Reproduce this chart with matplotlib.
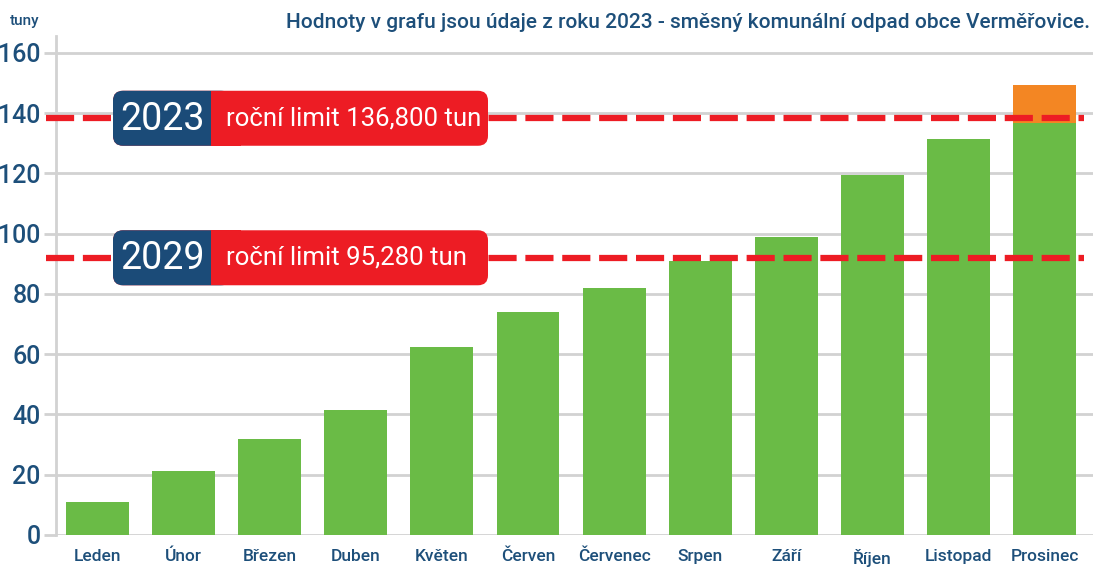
import matplotlib
matplotlib.use("Agg")
import matplotlib.pyplot as plt
from matplotlib.patches import FancyBboxPatch, Rectangle
import numpy as np

# Data (tuny)
months = ["Leden", "Únor", "Březen", "Duben", "Květen", "Červen",
          "Červenec", "Srpen", "Září", "Říjen", "Listopad", "Prosinec"]
values = [11.0, 21.2, 31.9, 41.5, 62.4, 74.0, 82.0, 91.0, 98.9, 119.5, 131.5, 149.4]

limit_years = ["2023", "2029"]
limit_texts = ["roční limit 136,800 tun", "roční limit 95,280 tun"]
limit_values = [136.8, 95.28]
# the dashed lines sit slightly off the stated values in the original
limit_lines = [138.3, 92.0]

GREEN = "#6abb46"
ORANGE = "#f38623"
BLUE = "#1b4b78"
RED = "#ed1c24"
GRID = "#d2d2d2"
TEXT = "#1d4f7a"

plt.rcParams['font.family'] = ['Roboto', 'DejaVu Sans']
plt.rcParams['font.weight'] = 500

W, H = 1093, 568
fig = plt.figure(figsize=(W / 100, H / 100), dpi=100)
ax = fig.add_axes([56 / W, 33 / H, 1037 / W, 499 / H])

x = np.arange(len(months))
cap = limit_values[0]
green_part = [min(v, cap) for v in values]
over_part = [max(v - cap, 0) for v in values]
ax.bar(x, green_part, width=0.73, color=GREEN, zorder=2)
ax.bar(x, over_part, width=0.73, bottom=green_part, color=ORANGE, zorder=2)

ax.set_xlim(-0.48, 11.56)
ax.set_ylim(0, 165.6)
ax.set_yticks(range(0, 161, 20))
ax.yaxis.grid(True, color=GRID, linewidth=2, zorder=0)
ax.set_axisbelow(True)
for s in ["top", "right", "bottom"]:
    ax.spines[s].set_visible(False)
ax.spines["left"].set_color(GRID)
ax.spines["left"].set_linewidth(2)
ax.tick_params(axis="y", length=9, width=2, color=GRID, pad=2,
               labelsize=18, labelcolor=TEXT)
ax.set_xticks(x)
ax.set_xticklabels(months)
ax.tick_params(axis="x", length=0, pad=10, labelsize=12.5, labelcolor=TEXT)

# dashed limit lines
for ly in limit_lines:
    ax.plot([-0.6, 11.45], [ly, ly], color=RED, linewidth=4.5,
            dashes=(4.5, 1.4), clip_on=False, zorder=3)

fig.text(10 / W, 1 - 21 / H, "tuny", fontsize=11, color=TEXT, va="center")
fig.text(1090 / W, 1 - 22 / H, "Hodnoty v grafu jsou údaje z roku 2023 - směsný komunální odpad obce Verměřovice.",
         fontsize=15, color=TEXT, ha="right", va="center")

# label boxes drawn in pixel space on an overlay axes
ov = fig.add_axes([0, 0, 1, 1], zorder=5)
ov.set_xlim(0, W)
ov.set_ylim(H, 0)
ov.axis("off")
ov.patch.set_alpha(0)

x0, xmid, x1, bh = 113, 211, 488, 55
for year, txt, ly in zip(limit_years, limit_texts, limit_lines):
    yc = H - ax.transData.transform((0, ly))[1]
    top = yc - bh / 2
    ov.add_patch(FancyBboxPatch((x0, top), x1 - x0, bh,
                                boxstyle="round,pad=0,rounding_size=10",
                                facecolor=RED, edgecolor="none"))
    ov.add_patch(FancyBboxPatch((x0, top), xmid - x0 + 20, bh,
                                boxstyle="round,pad=0,rounding_size=10",
                                facecolor=BLUE, edgecolor="none"))
    ov.add_patch(Rectangle((xmid, top), 30, bh, facecolor=RED, edgecolor="none"))
    ov.text((x0 + xmid) / 2, yc + 1, year, color="white", fontsize=27,
            fontweight="normal", ha="center", va="center")
    ov.text(xmid + 15, yc, txt, color="white", fontsize=18.5,
            fontweight="normal", ha="left", va="center")

fig.savefig("out.png", dpi=100)
